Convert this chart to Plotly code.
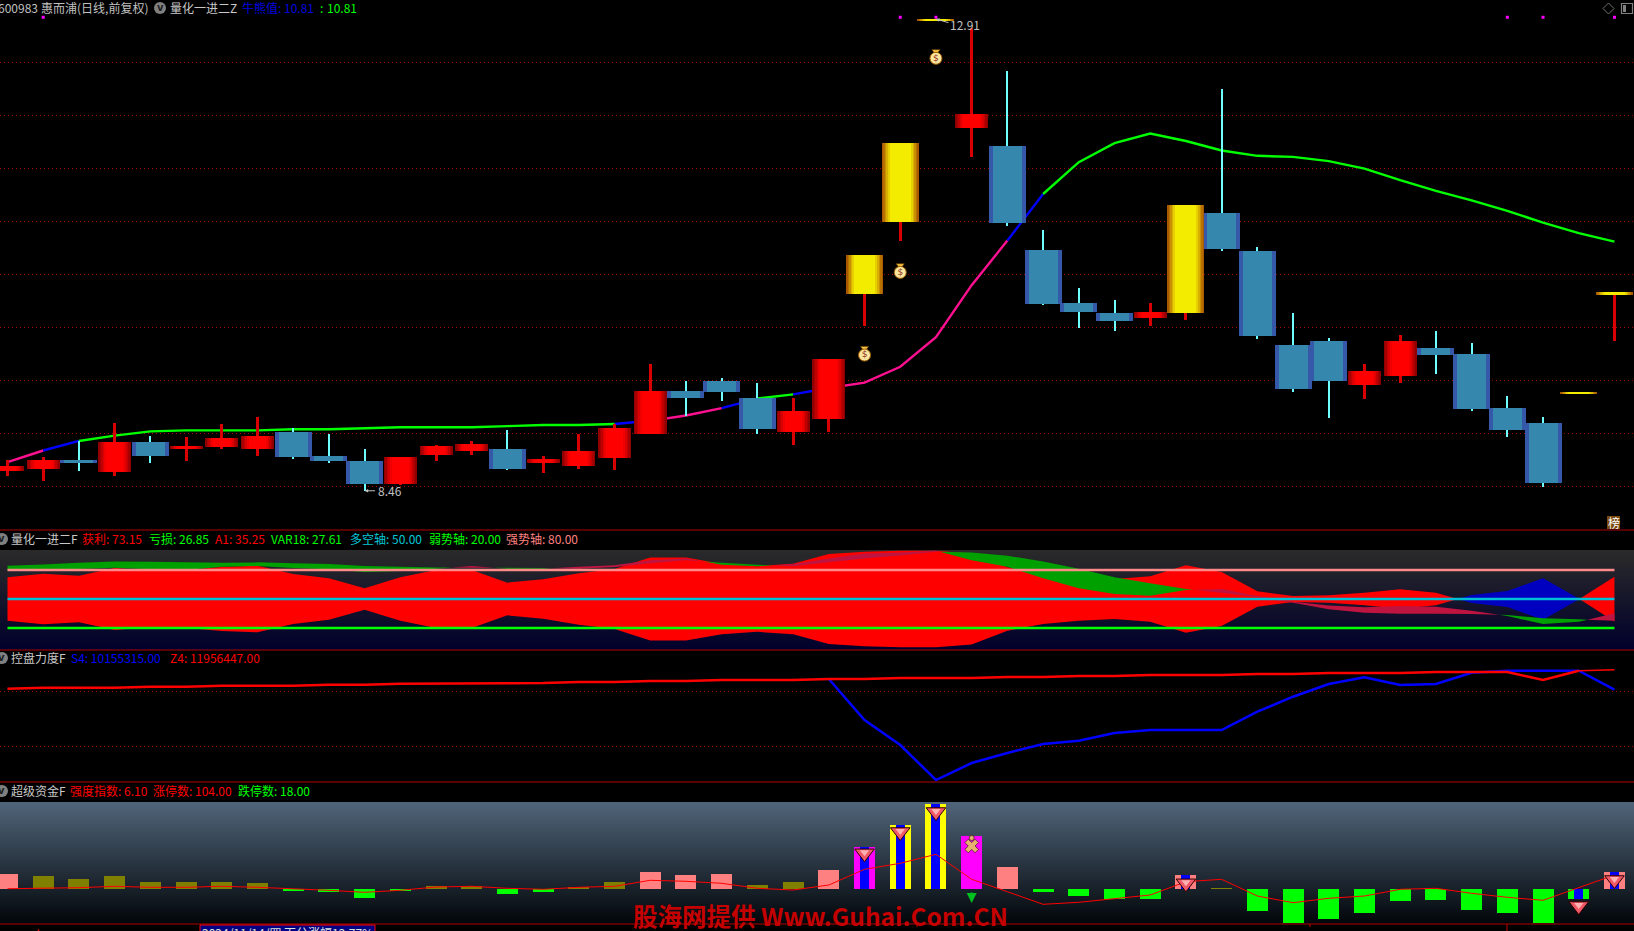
import plotly.graph_objects as go

W, H = 1634, 931
BARS = list(range(46))
FONT = "Noto Sans CJK SC"

# ---------- main panel: candles (price) ----------
kind = list("rrbrbrrrbbbrrrbrrrrbbbrrgggrbbbbrgbbbbrrbbbbgg")
body_top = [8.69,8.75,8.75,8.92,8.92,8.88,8.96,8.98,9.01,8.79,8.74,8.78,8.88,8.90,8.85,8.76,8.84,9.05,9.40,9.40,
            9.50,9.34,9.21,9.70,10.68,11.74,12.91,12.01,11.71,10.73,10.23,10.14,10.15,11.16,11.08,10.72,9.84,9.87,
            9.59,9.87,9.81,9.75,9.24,9.10,9.39,10.34]
body_bot = [8.65,8.67,8.72,8.64,8.79,8.85,8.87,8.85,8.78,8.74,8.52,8.52,8.80,8.84,8.67,8.72,8.69,8.77,9.00,9.34,
            9.39,9.04,9.01,9.14,10.32,11.00,12.90,11.88,10.99,10.22,10.15,10.06,10.09,10.14,10.74,9.92,9.42,9.50,
            9.46,9.54,9.74,9.23,9.03,8.53,9.38,10.31]
wick_high = [8.75,8.78,8.93,9.10,8.98,8.97,9.09,9.16,9.05,9.00,8.85,8.78,8.89,8.93,9.03,8.79,9.00,9.09,9.66,9.50,
             9.52,9.48,9.34,9.70,10.68,11.74,12.91,12.83,12.42,10.92,10.37,10.26,10.23,11.16,12.25,10.76,10.14,9.90,
             9.66,9.93,9.97,9.85,9.35,9.16,9.39,10.34]
wick_low = [8.60,8.55,8.65,8.60,8.72,8.74,8.85,8.79,8.76,8.72,8.46,8.51,8.74,8.80,8.66,8.63,8.67,8.66,9.00,9.17,
            9.31,9.00,8.89,9.01,10.01,10.82,12.90,11.61,10.96,10.21,10.00,9.97,10.01,10.07,10.72,9.89,9.39,9.15,
            9.33,9.48,9.56,9.21,8.97,8.50,9.38,9.87]
grid_main = [12.5,12.0,11.5,11.0,10.5,10.0,9.5,9.0,8.5]

# bull/bear line
ma_line = [8.73,8.84,8.93,8.98,9.02,9.03,9.03,9.03,9.04,9.04,9.05,9.06,9.06,9.06,9.07,9.08,9.08,9.09,9.12,9.17,
           9.24,9.33,9.37,9.43,9.48,9.63,9.91,10.40,10.82,11.26,11.56,11.74,11.83,11.76,11.67,11.62,11.61,11.57,
           11.50,11.39,11.29,11.20,11.10,10.99,10.89,10.81]
ma_pink_runs = [(0,1),(18,20),(23,28)]
ma_blue_runs = [(1,2),(17,18),(20,21),(22,23),(28,29)]
ma_green_runs = [(2,17),(21,22),(29,45)]

signal_bars = [1,25,26,42,43,45]
signal_price = 12.927
bag_bars = [24,25,26]
bag_price = [9.75,10.53,12.55]

# ---------- panel 2 ----------
profit = [72.4,76.2,74.1,82,79,80,83,84.5,75.9,71.4,61,72.4,80,80,66.9,70.4,76.6,81,93,93,86.5,84,86.5,96.5,99,
          100,100,97,82.8,75.9,72.4,70.7,73.5,84.8,78,58,53,53.8,56.5,60,56.5,45.9,41.7,28.6,49.6,73.15]
a1 = [79.3,80.0,81.0,82.4,80.7,80.0,83.4,84.1,82.0,80.7,77.9,79.0,81.4,84.1,81.4,81.4,83.4,85,90,92,85.5,84,86,92,
      97,98,100,90,83.4,71.4,61,55.2,53.4,59.3,60.3,53.1,47.2,43.4,41.4,42.7,42,37.9,32.4,24.1,26.5,35.25]
var18 = [84.5,85.8,87.6,88.9,88.6,87.9,87.6,87.9,86.9,86.2,84.1,83.4,82.7,82.4,82.4,82.0,81.4,83,87,90,87.5,85.5,84,
         88,92,95,99,98,94.8,88.9,81.4,72.4,66.2,60.3,56.5,51.7,46.2,39.3,35.8,34.8,34.8,34.5,33.4,30,29,27.61]
axes_levels = [(80,"#ff8a8a"),(50,"#00c0d8"),(20,"#00ff00")]

# ---------- panel 3 ----------
z4 = [10236000,10327000,10327000,10327000,10418000,10418000,10509000,10509000,10509000,10600000,10600000,10691000,
      10691000,10755000,10755000,10755000,10845000,10845000,10936000,10936000,11027000,11027000,11027000,11118000,
      11118000,11209000,11209000,11209000,11300000,11300000,11391000,11391000,11482000,11482000,11482000,11573000,
      11573000,11664000,11664000,11664000,11755000,11755000,11755000,11027000,11873000,11956447]
s4 = z4[:24] + [7391000,5118000,1936000,3482000,4391000,5209000,5509000,6209000,6482000,6482000,6482000,8145000,
                9509000,10664000,11273000,10573000,10664000,11691000,11873000,11873000,11873000,10155315]
grid_p3 = [5000000,10000000]

# ---------- panel 4 ----------
fund_vals = [15,13,10,13,7,7,7,6,-1.5,-3,-9,-1.5,3,3,-5,-3,2,7,17,14,15,4,7,19,42,64,85,53,22,-3,-7,-10,-10,14,0.7,
             -22,-34,-30,-24,-12,-11,-21,-24,-34,-10,17]
fund_color = ["#ff8080","#808000","#808000","#808000","#808000","#808000","#808000","#808000","#00ff00","#00ff00",
              "#00ff00","#00ff00","#808000","#808000","#00ff00","#00ff00","#808000","#808000","#ff8080","#ff8080",
              "#ff8080","#808000","#808000","#ff8080","#ff00ff","#ffff00","#ffff00","#ff00ff","#ff8080","#00ff00",
              "#00ff00","#00ff00","#00ff00","#ff8080","#808000","#00ff00","#00ff00","#00ff00","#00ff00","#00ff00",
              "#00ff00","#00ff00","#00ff00","#00ff00","#00ff00","#ff8080"]
fund_core_bars = [24,25,26,33,44,45]
strength = [0.3,0.7,1.3,2.7,1.7,1.7,2.7,1.7,0.3,-1.3,-3.3,-1.3,2,2.7,0.7,-0.3,1.7,2.7,8.7,7.7,5.7,0.7,-1,4,19.7,25.7,
            34.7,9.7,-2.7,-15.3,-13.3,-9.3,-6,7.3,9.7,-7,-13.7,-9.3,-7,-0.3,0.7,-4.3,-8.3,-11.3,1.7,14]
gem_bars = [24,25,26,33,44,45]
gem_vals = [35.7,57,77,5.7,-17,9]
runner_bar, runner_val = 27, 43

# ---------- pixel geometry ----------
DX = 35.71
X0 = 7.5
x_range = [-X0/DX, (W-X0)/DX]
def dom(top, bot):
    return [1-bot/H, 1-top/H]
def pw(px):
    return px/DX

fig = go.Figure()

# MA line, under the candles
def ma_segments(runs, color):
    xs, ys = [], []
    for a, b in runs:
        xs += BARS[a:b+1] + [None]
        ys += ma_line[a:b+1] + [None]
    fig.add_trace(go.Scatter(x=xs, y=ys, mode="lines", line=dict(color=color, width=2.4), zorder=-1,
                             xaxis="x", yaxis="y", hoverinfo="skip"))
ma_segments(ma_pink_runs, "#ff1090")
ma_segments(ma_blue_runs, "#0000ff")
ma_segments(ma_green_runs, "#00ff00")

# Wicks
def wicks(sel, color, px):
    fig.add_trace(go.Bar(x=sel, y=[wick_high[i]-wick_low[i] for i in sel], base=[wick_low[i] for i in sel],
                         width=pw(px), marker=dict(color=color, line=dict(width=0)), xaxis="x", yaxis="y",
                         hoverinfo="skip"))
idx_r = [i for i in BARS if kind[i] == "r"]
idx_b = [i for i in BARS if kind[i] == "b"]
idx_g = [i for i in BARS if kind[i] == "g"]
wicks(idx_r + idx_g, "#d80000", 3)
wicks(idx_b, "#70ffff", 1)

# Bodies with layered shading
def bodies(sel, layers):
    for px, color in layers:
        fig.add_trace(go.Bar(x=sel, y=[body_top[i]-body_bot[i] for i in sel], base=[body_bot[i] for i in sel],
                             width=pw(px), marker=dict(color=color, line=dict(width=0)), xaxis="x", yaxis="y",
                             hoverinfo="skip"))
bodies(idx_b, [(37,"#3658a8"),(29,"#3687ad")])
bodies(idx_r, [(33,"#900000"),(30,"#a80000"),(27,"#c00000"),(24,"#d80000"),(21,"#f00000"),(17,"#ff0000")])
bodies(idx_g, [(37,"#a85800"),(34,"#b87000"),(31,"#c89000"),(28,"#d8b000"),(25,"#e8d000"),(21,"#f4ec00")])

# signal dots
fig.add_trace(go.Scatter(x=signal_bars, y=[signal_price]*len(signal_bars), mode="markers",
                         marker=dict(symbol="square", size=3, color="#ff00ff", line=dict(width=0)),
                         xaxis="x", yaxis="y", zorder=2, hoverinfo="skip"))
# money bags
fig.add_trace(go.Scatter(x=bag_bars, y=[p+0.055 for p in bag_price], mode="markers",
                         marker=dict(symbol="triangle-down", size=7, color="#f0c040", line=dict(width=0.5, color="#804000")),
                         xaxis="x", yaxis="y", zorder=2, hoverinfo="skip"))
fig.add_trace(go.Scatter(x=bag_bars, y=[p-0.01 for p in bag_price], mode="markers+text", text=["$"]*3,
                         textposition="middle center", textfont=dict(size=9, color="#903020", family="DejaVu Sans"),
                         marker=dict(symbol="circle", size=12, color="#fbe6a0", line=dict(width=1, color="#a06000")),
                         xaxis="x", yaxis="y", zorder=2, hoverinfo="skip"))

# ---------- panel 2 ----------
def band(a, b):
    """polygons where a>b and where a<b, split at the crossings"""
    pos_x, pos_y, neg_x, neg_y = [], [], [], []
    def flush(sign, xs, aa, bb):
        tx = xs + xs[::-1] + [None]
        ty = aa + bb[::-1] + [None]
        if sign > 0:
            pos_x.extend(tx); pos_y.extend(ty)
        else:
            neg_x.extend(tx); neg_y.extend(ty)
    sign = 1 if a[0] >= b[0] else -1
    xs, aa, bb = [0], [a[0]], [b[0]]
    for i in range(1, len(a)):
        d0, d1 = a[i-1]-b[i-1], a[i]-b[i]
        s = 1 if d1 >= 0 else -1
        if s != sign:
            t = d0/(d0-d1)
            xc = i-1+t
            yc = a[i-1]+t*(a[i]-a[i-1])
            xs.append(xc); aa.append(yc); bb.append(yc)
            flush(sign, xs, aa, bb)
            sign = s
            xs, aa, bb = [xc], [yc], [yc]
        xs.append(i); aa.append(a[i]); bb.append(b[i])
    flush(sign, xs, aa, bb)
    return pos_x, pos_y, neg_x, neg_y

def polygon(x, y, color):
    fig.add_trace(go.Scatter(x=x, y=y, mode="none", fill="toself", fillcolor=color, xaxis="x", yaxis="y2",
                             hoverinfo="skip"))
loss = [100-p for p in profit]
px_, py_, nx_, ny_ = band(profit, loss)
polygon(px_, py_, "#ff0000")
polygon(nx_, ny_, "#0000c0")
px_, py_, nx_, ny_ = band(a1, var18)
polygon(px_, py_, "#c01440")
polygon(nx_, ny_, "#00a000")
for level, color in axes_levels:
    fig.add_trace(go.Scatter(x=[0,45], y=[level,level], mode="lines", line=dict(color=color, width=2.5),
                             xaxis="x", yaxis="y2", hoverinfo="skip"))

# ---------- panel 3 ----------
fig.add_trace(go.Scatter(x=BARS[23:], y=s4[23:], mode="lines", line=dict(color="#0000ff", width=2.5), xaxis="x", yaxis="y3",
                         hoverinfo="skip"))
fig.add_trace(go.Scatter(x=BARS[:45], y=z4[:45], mode="lines", line=dict(color="#ff0000", width=2.5), xaxis="x", yaxis="y3",
                         hoverinfo="skip"))
fig.add_trace(go.Scatter(x=BARS[44:], y=z4[44:], mode="lines", line=dict(color="#ff0000", width=1.4), xaxis="x", yaxis="y3",
                         hoverinfo="skip"))

# ---------- panel 4 ----------
for color in sorted(set(fund_color)):
    sel = [i for i in BARS if fund_color[i] == color]
    fig.add_trace(go.Bar(x=sel, y=[fund_vals[i] for i in sel], width=pw(21), marker=dict(color=color, line=dict(width=0)),
                         xaxis="x", yaxis="y4", hoverinfo="skip"))
fig.add_trace(go.Bar(x=fund_core_bars, y=[fund_vals[i] for i in fund_core_bars], width=pw(9),
                     marker=dict(color="#0000ff", line=dict(width=0)), xaxis="x", yaxis="y4", hoverinfo="skip"))
fig.add_trace(go.Scatter(x=BARS, y=strength, mode="lines", line=dict(color="#ff0000", width=1), xaxis="x", yaxis="y4",
                         hoverinfo="skip"))
fig.add_trace(go.Scatter(x=gem_bars, y=gem_vals, mode="markers",
                         marker=dict(symbol="triangle-down", size=17, color="#f05868", line=dict(width=1, color="#300000")),
                         xaxis="x", yaxis="y4", zorder=2, hoverinfo="skip"))
fig.add_trace(go.Scatter(x=gem_bars, y=[v+1 for v in gem_vals], mode="markers",
                         marker=dict(symbol="triangle-down", size=8, color="#ffb0b0", line=dict(width=0)),
                         xaxis="x", yaxis="y4", zorder=2, hoverinfo="skip"))
fig.add_trace(go.Scatter(x=[runner_bar], y=[runner_val], mode="markers",
                         marker=dict(symbol="x", size=12, color="#e8b070", line=dict(width=0.6, color="#201000")),
                         xaxis="x", yaxis="y4", zorder=2, hoverinfo="skip"))
fig.add_trace(go.Scatter(x=[runner_bar], y=[runner_val+8], mode="markers",
                         marker=dict(symbol="circle", size=5, color="#e8b070", line=dict(width=0.6, color="#201000")),
                         xaxis="x", yaxis="y4", zorder=2, hoverinfo="skip"))

# ---------- chrome ----------
shapes, annos = [], []
def gradient(top, bot, c0, c1, step=2):
    y = top
    n = (bot-top)/step
    k = 0
    while y < bot:
        t = k/max(n-1, 1)
        col = "rgb(%d,%d,%d)" % tuple(round(c0[j]+(c1[j]-c0[j])*t) for j in range(3))
        shapes.append(dict(type="rect", xref="paper", yref="paper", x0=0, x1=1, y0=1-y/H, y1=1-min(y+step+0.6, bot)/H,
                           fillcolor=col, line=dict(width=0), layer="below"))
        y += step
        k += 1
gradient(550, 650, (42,42,42), (0,0,44))
gradient(802, 924, (80,100,121), (2,6,10))

for y in [530, 650, 782, 924]:
    shapes.append(dict(type="line", xref="paper", yref="paper", x0=0, x1=1, y0=1-y/H, y1=1-y/H,
                       line=dict(color="#b00000", width=1.2)))

def txt(x, y, text, color="#c0c0c0", size=12, bold=False, bg=None, anchor="left", family=FONT):
    a = dict(xref="paper", yref="paper", x=x/W, y=1-y/H, text=("<b>%s</b>" % text) if bold else text, showarrow=False,
             xanchor=anchor, yanchor="middle", font=dict(color=color, size=size, family=family), borderpad=0, borderwidth=0)
    if bg:
        a["bgcolor"] = bg
    annos.append(a)

def icon(cx, cy, r=6):
    shapes.append(dict(type="circle", xref="paper", yref="paper", x0=(cx-r)/W, x1=(cx+r)/W, y0=1-(cy+r)/H, y1=1-(cy-r)/H,
                       fillcolor="#808080", line=dict(width=0)))
    txt(cx, cy-1, "v", "#202020", 10, bold=True, anchor="center", family="DejaVu Sans")

# header main
txt(-2, 7, "600983", "#c0c0c0")
txt(41, 7, "惠而浦(日线,前复权)", "#c0c0c0")
icon(160, 8)
txt(170, 7, "量化一进二Z", "#c8c8c8")
txt(242, 7, "牛熊值: 10.81", "#0000e0")
txt(320, 7, ":", "#00ff00")
txt(327, 7, "10.81", "#00ff00")

# header 2
icon(2, 539)
txt(11, 538, "量化一进二F", "#c8c8c8")
txt(82, 538, "获利: 73.15", "#ff0000")
txt(149, 538, "亏损: 26.85", "#00ff00")
txt(215, 538, "A1: 35.25", "#ff0000")
txt(271, 538, "VAR18: 27.61", "#00ff00")
txt(350, 538, "多空轴: 50.00", "#00c8d8")
txt(429, 538, "弱势轴: 20.00", "#00ff00")
txt(506, 538, "强势轴: 80.00", "#ff8080")

# header 3
icon(2, 658)
txt(11, 657, "控盘力度F", "#c8c8c8")
txt(71, 657, "S4: 10155315.00", "#0000ff")
txt(170, 657, "Z4: 11956447.00", "#ff0000")

# header 4
icon(2, 791)
txt(11, 790, "超级资金F", "#c8c8c8")
txt(70, 790, "强度指数: 6.10", "#ff0000")
txt(153, 790, "涨停数: 104.00", "#ff0000")
txt(238, 790, "跌停数: 18.00", "#00ff00")

# price labels on the chart
annos.append(dict(xref="x", yref="y", x=26, y=12.91, text="", showarrow=True, arrowhead=2, arrowsize=0.7, arrowwidth=1,
                  arrowcolor="#c0c0c0", ax=14, ay=4, axref="pixel", ayref="pixel"))
annos.append(dict(xref="x", yref="y", x=10, y=8.46, text="", showarrow=True, arrowhead=2, arrowsize=0.7, arrowwidth=1,
                  arrowcolor="#c0c0c0", ax=12, ay=0, axref="pixel", ayref="pixel"))
txt(950, 24, "12.91", "#c0c0c0")
txt(378, 490, "8.46", "#c0c0c0")

# down arrow under panel-4 bar
annos.append(dict(xref="x", yref="y4", x=27, y=-14, text="", showarrow=True, arrowhead=2, arrowsize=1, arrowwidth=2,
                  arrowcolor="#00c020", ax=0, ay=-12, axref="pixel", ayref="pixel"))

# little window icons
shapes.append(dict(type="path", xref="paper", yref="paper",
                   path="M %f %f L %f %f L %f %f L %f %f Z" % (1603/W, 1-8.5/H, 1608.5/W, 1-3/H, 1614/W, 1-8.5/H, 1608.5/W, 1-14/H),
                   line=dict(color="#707070", width=1)))
shapes.append(dict(type="rect", xref="paper", yref="paper", x0=1621.5/W, x1=1632.5/W, y0=1-13.5/H, y1=1-3.5/H,
                   line=dict(color="#808080", width=1.2)))
shapes.append(dict(type="rect", xref="paper", yref="paper", x0=1623/W, x1=1626/W, y0=1-12/H, y1=1-5/H,
                   fillcolor="#808080", line=dict(width=0)))

# rank badge
shapes.append(dict(type="rect", xref="paper", yref="paper", x0=1607/W, x1=1620/W, y0=1-529/H, y1=1-516/H,
                   fillcolor="#7a4a10", line=dict(width=0)))
txt(1613.5, 522, "榜", "#ffffff", 12, anchor="center")

# date strip (cut by the page bottom)
shapes.append(dict(type="rect", xref="paper", yref="paper", x0=200/W, x1=375/W, y0=1-925/H, y1=1-934/H,
                   fillcolor="#000080", line=dict(color="#ff0000", width=1)))
txt(8, 934, "2024年", "#ff0000")
txt(202, 932, "2024/11/14/四 百分涨幅12.77%", "#e0e0e0")
txt(722, 934, "12", "#ff0000")
txt(1508, 934, "1", "#ff0000")
for tx, ty in [(917, 927), (1310, 927), (1507, 931)]:
    shapes.append(dict(type="line", xref="paper", yref="paper", x0=tx/W, x1=tx/W, y0=1-924/H, y1=1-ty/H,
                       line=dict(color="#c00000", width=1)))

# watermark
txt(633, 915, "股海网提供 Www.Guhai.Com.CN", "#c40000", 24.5, bold=True)

hidden = dict(showticklabels=False, ticks="", zeroline=False, showline=False)
def yaxis(top, bot, rng, grid=None):
    d = dict(domain=dom(top, bot), range=rng, anchor="x", **hidden)
    if grid:
        d.update(showgrid=True, tickmode="array", tickvals=grid, gridcolor="#a00000", gridwidth=1, griddash="1px,3px")
    else:
        d.update(showgrid=False)
    return d

fig.update_layout(
    width=W, height=H, margin=dict(l=0, r=0, t=0, b=0), autosize=False,
    paper_bgcolor="#000000", plot_bgcolor="rgba(0,0,0,0)", showlegend=False, barmode="overlay", bargap=0,
    hovermode=False, font=dict(family=FONT),
    xaxis=dict(range=x_range, domain=[0,1], showgrid=False, visible=False),
    yaxis=yaxis(0, 530, [8.09, 13.09], grid_main),
    yaxis2=yaxis(550, 650, [-2.76, 100.7]),
    yaxis3=yaxis(650, 782, [1755000, 13755000], grid_p3),
    yaxis4=yaxis(802, 924, [-35, 87]),
    shapes=shapes, annotations=annos,
)

fig.write_html("out.html", config=dict(displayModeBar=False),
               post_script="document.body.style.margin='0';document.body.style.background='#000';document.body.style.overflow='hidden';")
